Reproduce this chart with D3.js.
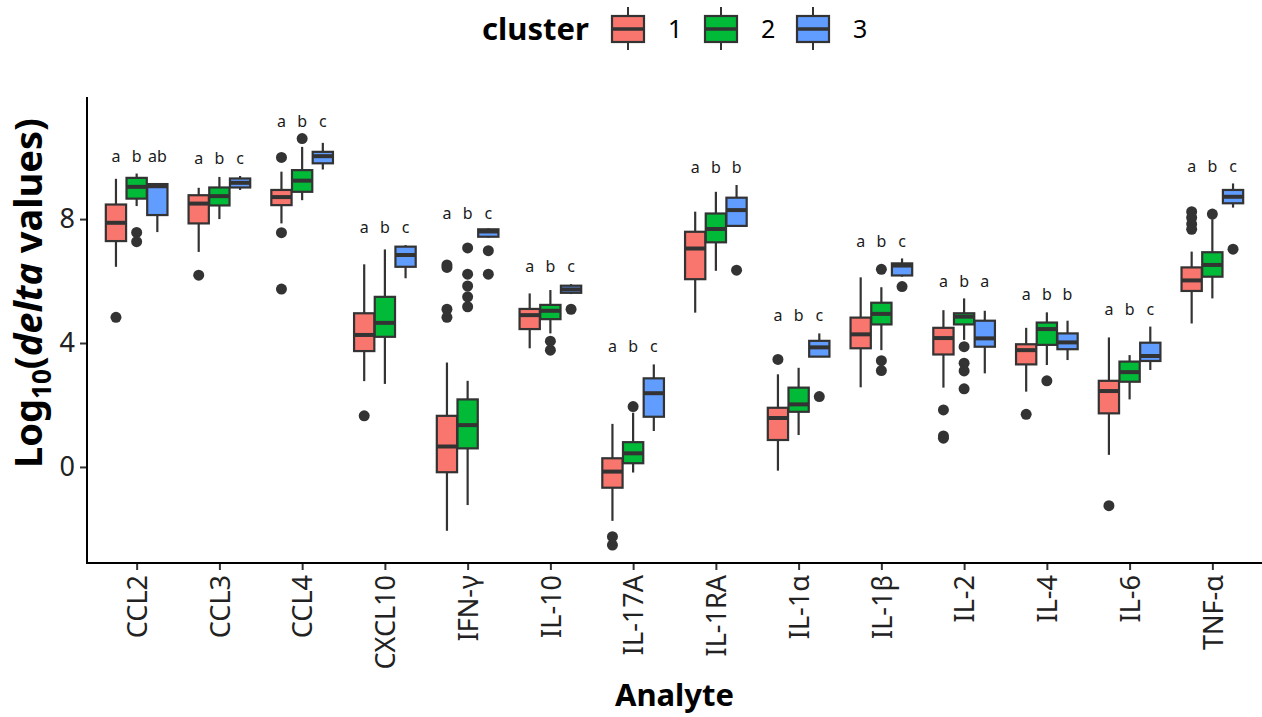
<!DOCTYPE html>
<html>
<head>
<meta charset="utf-8">
<script src="https://cdn.jsdelivr.net/npm/d3@7"></script>
<style>
  body { margin: 0; background: white; }
  text { font-family: "Noto Sans", sans-serif; }
</style>
</head>
<body>
<div id="chart"></div>
<script>
const analytes = ["CCL2", "CCL3", "CCL4", "CXCL10", "IFN-γ", "IL-10", "IL-17A", "IL-1RA", "IL-1α", "IL-1β", "IL-2", "IL-4", "IL-6", "TNF-α"];
const clusters = ["1", "2", "3"];
const clusterColors = ["#F8766D", "#00BA38", "#619CFF"];

// [lower whisker, q1, median, q3, upper whisker]
const stats1 = [
    [6.46, 7.29, 7.88, 8.47, 9.30], [6.94, 7.86, 8.50, 8.77, 9.01], [7.86, 8.45, 8.71, 8.94, 9.53],
    [2.77, 3.74, 4.26, 4.96, 6.54], [-2.06, -0.17, 0.66, 1.65, 3.37], [3.83, 4.45, 4.90, 5.10, 5.60],
    [-1.74, -0.67, -0.15, 0.28, 1.39], [4.98, 6.06, 7.05, 7.59, 8.24], [-0.12, 0.87, 1.58, 1.91, 2.99],
    [2.57, 3.83, 4.28, 4.82, 6.12], [2.56, 3.63, 4.16, 4.49, 5.06], [2.43, 3.31, 3.77, 3.96, 4.49],
    [0.39, 1.73, 2.45, 2.78, 4.18], [4.63, 5.68, 6.02, 6.44, 6.95]
];
const stats2 = [
    [8.42, 8.66, 9.04, 9.33, 9.47], [8.00, 8.44, 8.74, 9.02, 9.36], [8.61, 8.88, 9.24, 9.58, 10.33],
    [2.68, 4.20, 4.65, 5.49, 7.02], [-1.23, 0.60, 1.35, 2.18, 2.78], [4.31, 4.77, 5.04, 5.23, 5.71],
    [-0.18, 0.12, 0.44, 0.80, 1.75], [6.33, 7.25, 7.68, 8.18, 8.88], [1.03, 1.78, 2.02, 2.56, 3.20],
    [3.77, 4.60, 4.94, 5.30, 5.80], [4.10, 4.60, 4.85, 4.96, 5.44], [3.29, 3.94, 4.45, 4.66, 4.99],
    [2.18, 2.75, 3.06, 3.40, 3.61], [5.44, 6.14, 6.52, 6.93, 8.00]
];
const stats3 = [
    [7.58, 8.13, 9.06, 9.13, 9.13], [8.94, 9.02, 9.17, 9.31, 9.39], [9.60, 9.80, 10.03, 10.17, 10.46],
    [6.09, 6.46, 6.84, 7.11, 7.16], [7.40, 7.43, 7.60, 7.67, 7.70], [5.58, 5.62, 5.73, 5.85, 5.90],
    [1.16, 1.62, 2.38, 2.86, 3.31], [7.76, 7.78, 8.29, 8.69, 9.10], [3.56, 3.56, 3.86, 4.07, 4.31],
    [6.14, 6.18, 6.50, 6.57, 6.73], [3.02, 3.88, 4.15, 4.72, 5.04], [3.45, 3.80, 4.02, 4.31, 4.72],
    [3.13, 3.42, 3.58, 4.01, 4.53], [8.37, 8.51, 8.72, 8.94, 9.15]
];

const outliers1 = [[4.83], [6.19], [9.99, 7.56, 5.74], [1.65], [6.52, 6.44, 5.09, 4.83], [], [-2.25, -2.52], [], [3.47], [], [1.84, 1.00, 0.93], [1.70], [-1.25], [8.24, 8.05, 7.84, 7.67]];
const outliers2 = [[7.57, 7.27], [], [10.60], [], [7.07, 6.22, 5.84, 5.49, 5.17], [4.06, 3.77], [1.95], [], [], [6.38, 3.43, 3.11], [3.88, 3.35, 3.10, 2.52], [2.78], [], [8.16]];
const outliers3 = [[], [], [], [], [6.98, 6.22], [5.09], [], [6.35], [2.27], [5.82], [], [], [], [7.03]];

const letters1 = ["a", "a", "a", "a", "a", "a", "a", "a", "a", "a", "a", "a", "a", "a"];
const letters2 = ["b", "b", "b", "b", "b", "b", "b", "b", "b", "b", "b", "b", "b", "b"];
const letters3 = ["ab", "c", "c", "c", "c", "c", "c", "b", "c", "c", "a", "b", "c", "c"];
const letterY = [10.03, 9.97, 11.16, 7.74, 8.19, 6.48, 3.9, 9.68, 4.9, 7.29, 6.0, 5.58, 5.1, 9.71];

const yTicks = [0, 4, 8];

const width = 1262, height = 717;
const margin = { left: 87, right: 0, top: 97, bottom: 154 };
const lineColor = "#333333";

const svg = d3.select("#chart").append("svg")
    .attr("width", width)
    .attr("height", height);

const x = d3.scalePoint()
    .domain(analytes)
    .range([margin.left, width - margin.right])
    .padding(0.6);

const y = d3.scaleLinear()
    .domain([-3.1, 11.94])
    .range([height - margin.bottom, margin.top]);

const dodge = x.step() * 0.75 / 3;
const boxW = dodge * 0.98;

const allStats = [stats1, stats2, stats3];
const allOutliers = [outliers1, outliers2, outliers3];
const allLetters = [letters1, letters2, letters3];

// flatten into one record per box
let boxes = [];
analytes.forEach((a, i) => {
    clusters.forEach((c, k) => {
        let s = allStats[k][i];
        boxes.push({
            analyte: a, k: k,
            cx: x(a) + (k - 1) * dodge,
            lo: s[0], q1: s[1], med: s[2], q3: s[3], hi: s[4],
            out: allOutliers[k][i],
            letter: allLetters[k][i],
            ly: letterY[i]
        });
    });
});

const g = svg.append("g");

g.selectAll("line.whisker-hi")
    .data(boxes)
    .enter().append("line")
    .attr("class", "whisker-hi")
    .attr("x1", d => d.cx).attr("x2", d => d.cx)
    .attr("y1", d => y(d.q3)).attr("y2", d => y(d.hi))
    .attr("stroke", lineColor).attr("stroke-width", 2.2);

g.selectAll("line.whisker-lo")
    .data(boxes)
    .enter().append("line")
    .attr("class", "whisker-lo")
    .attr("x1", d => d.cx).attr("x2", d => d.cx)
    .attr("y1", d => y(d.q1)).attr("y2", d => y(d.lo))
    .attr("stroke", lineColor).attr("stroke-width", 2.2);

g.selectAll("rect.box")
    .data(boxes)
    .enter().append("rect")
    .attr("class", "box")
    .attr("x", d => d.cx - boxW / 2)
    .attr("width", boxW)
    .attr("y", d => y(d.q3))
    .attr("height", d => Math.max(0, y(d.q1) - y(d.q3)))
    .attr("fill", d => clusterColors[d.k])
    .attr("stroke", lineColor).attr("stroke-width", 2.2);

g.selectAll("line.median")
    .data(boxes)
    .enter().append("line")
    .attr("class", "median")
    .attr("x1", d => d.cx - boxW / 2).attr("x2", d => d.cx + boxW / 2)
    .attr("y1", d => y(d.med)).attr("y2", d => y(d.med))
    .attr("stroke", lineColor).attr("stroke-width", 4);

let pts = [];
boxes.forEach(b => b.out.forEach(v => pts.push({ cx: b.cx, v: v })));

g.selectAll("circle.outlier")
    .data(pts)
    .enter().append("circle")
    .attr("class", "outlier")
    .attr("cx", d => d.cx)
    .attr("cy", d => y(d.v))
    .attr("r", 5.5)
    .attr("fill", lineColor);

g.selectAll("text.letter")
    .data(boxes)
    .enter().append("text")
    .attr("class", "letter")
    .attr("x", d => d.cx)
    .attr("y", d => y(d.ly))
    .attr("dy", "0.35em")
    .attr("text-anchor", "middle")
    .attr("font-size", 16)
    .attr("fill", "#1a1a1a")
    .text(d => d.letter);

// axes
const xAxis = svg.append("g")
    .attr("transform", `translate(0,${height - margin.bottom})`)
    .call(d3.axisBottom(x).tickSize(7).tickSizeOuter(0));
xAxis.select(".domain").remove();
xAxis.selectAll(".tick line").attr("stroke", lineColor).attr("stroke-width", 2);
xAxis.selectAll(".tick text")
    .attr("transform", "rotate(-90)")
    .attr("x", -12).attr("y", 0).attr("dy", "0.36em")
    .attr("text-anchor", "end")
    .attr("font-size", 27)
    .attr("font-family", "Noto Sans")
    .attr("fill", "#222");

const yAxis = svg.append("g")
    .attr("transform", `translate(${margin.left},0)`)
    .call(d3.axisLeft(y).tickValues(yTicks).tickSize(7).tickFormat(d3.format("d")));
yAxis.select(".domain").remove();
yAxis.selectAll(".tick line").attr("stroke", lineColor).attr("stroke-width", 2);
yAxis.selectAll(".tick text")
    .attr("x", -12)
    .attr("font-size", 27)
    .attr("font-family", "Noto Sans")
    .attr("fill", "#222");

svg.append("line")
    .attr("x1", margin.left).attr("x2", margin.left)
    .attr("y1", margin.top).attr("y2", height - margin.bottom + 1)
    .attr("stroke", "black").attr("stroke-width", 2);
svg.append("line")
    .attr("x1", margin.left - 1).attr("x2", width)
    .attr("y1", height - margin.bottom).attr("y2", height - margin.bottom)
    .attr("stroke", "black").attr("stroke-width", 2);

// axis titles
svg.append("text")
    .attr("x", (margin.left + width) / 2)
    .attr("y", 706)
    .attr("text-anchor", "middle")
    .attr("font-size", 31)
    .attr("font-weight", "bold")
    .text("Analyte");

const yTitle = svg.append("text")
    .attr("transform", "translate(42,293) rotate(-90)")
    .attr("text-anchor", "middle")
    .attr("font-size", 38)
    .attr("font-weight", "bold");
yTitle.append("tspan").text("Log");
yTitle.append("tspan").attr("font-size", 26).attr("dy", 9).text("10");
yTitle.append("tspan").attr("dy", -9).text("(");
yTitle.append("tspan").attr("font-style", "italic").text("delta");
yTitle.append("tspan").text(" values)");

// legend
const legend = svg.append("g");
legend.append("text")
    .attr("x", 482).attr("y", 40)
    .attr("font-size", 31)
    .attr("font-weight", "bold")
    .text("cluster");

const keyX = [612, 705, 797];
const keys = legend.selectAll("g.key")
    .data(clusters)
    .enter().append("g")
    .attr("class", "key")
    .attr("transform", (d, i) => `translate(${keyX[i]},0)`);
keys.append("line")
    .attr("x1", 16).attr("x2", 16).attr("y1", 7).attr("y2", 50)
    .attr("stroke", lineColor).attr("stroke-width", 2);
keys.append("rect")
    .attr("x", 0).attr("y", 16).attr("width", 32).attr("height", 26)
    .attr("fill", (d, i) => clusterColors[i])
    .attr("stroke", lineColor).attr("stroke-width", 2.2);
keys.append("line")
    .attr("x1", 0).attr("x2", 32).attr("y1", 29).attr("y2", 29)
    .attr("stroke", lineColor).attr("stroke-width", 3.5);
keys.append("text")
    .attr("x", 56).attr("y", 38)
    .attr("font-size", 25)
    .text(d => d);
</script>
</body>
</html>
